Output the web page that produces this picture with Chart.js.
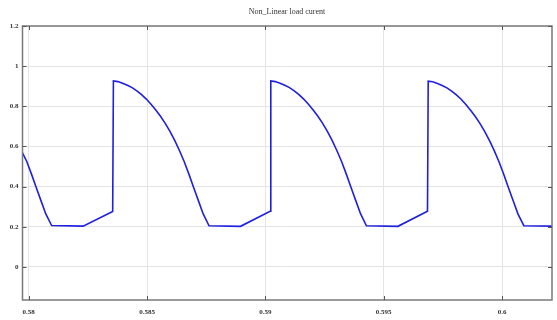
<!DOCTYPE html>
<html>
<head>
<meta charset="utf-8">
<script src="https://cdn.jsdelivr.net/npm/chart.js@4"></script>
<style>
    html, body { margin: 0; padding: 0; background: #fff; }
    #wrap { width: 557px; height: 320px; position: relative; }
</style>
</head>
<body>
<div id="wrap"><canvas id="scope"></canvas></div>
<script>
// valores (tempo em s, corrente em pu)
const time = [
    0.57974, 0.57992, 0.58012, 0.58032, 0.58052, 0.58072, 0.58097, 0.58230, 0.58355,
    0.58358, 0.58377, 0.58397, 0.58417, 0.58437, 0.58457, 0.58477, 0.58497, 0.58517, 0.58537, 0.58557, 0.58577,
    0.58597, 0.58617, 0.58637, 0.58657, 0.58677, 0.58697, 0.58717, 0.58737, 0.58762, 0.58895, 0.59020,
    0.59023, 0.59042, 0.59062, 0.59082, 0.59102, 0.59122, 0.59142, 0.59162, 0.59182, 0.59202, 0.59222, 0.59242,
    0.59262, 0.59282, 0.59302, 0.59322, 0.59342, 0.59362, 0.59382, 0.59402, 0.59427, 0.59560, 0.59685,
    0.59688, 0.59707, 0.59727, 0.59747, 0.59767, 0.59787, 0.59807, 0.59827, 0.59847, 0.59867, 0.59887, 0.59907,
    0.59927, 0.59947, 0.59967, 0.59987, 0.60007, 0.60027, 0.60047, 0.60067, 0.60092, 0.60215
];
const current = [
    0.568, 0.525, 0.462, 0.395, 0.330, 0.265, 0.206, 0.203, 0.276,
    0.926, 0.923, 0.915, 0.905, 0.893, 0.877, 0.858, 0.836, 0.810, 0.781, 0.750, 0.715,
    0.675, 0.630, 0.580, 0.525, 0.462, 0.395, 0.330, 0.265, 0.205, 0.202, 0.277,
    0.926, 0.923, 0.915, 0.905, 0.893, 0.877, 0.858, 0.836, 0.810, 0.781, 0.750, 0.715,
    0.675, 0.630, 0.580, 0.525, 0.462, 0.395, 0.330, 0.265, 0.205, 0.202, 0.277,
    0.925, 0.922, 0.914, 0.904, 0.892, 0.876, 0.857, 0.835, 0.809, 0.780, 0.749, 0.714,
    0.674, 0.629, 0.579, 0.524, 0.461, 0.394, 0.329, 0.264, 0.205, 0.203
];
const xTicks = [0.58, 0.585, 0.59, 0.595, 0.6];
const yTicks = [0, 0.2, 0.4, 0.6, 0.8, 1, 1.2];
const titleText = 'Non_Linear load curent';

// moldura e marcas internas no estilo do scope
const framePlugin = {
    id: 'frame',
    afterDraw(chart) {
        const { ctx, chartArea: a, scales } = chart;
        ctx.save();
        ctx.strokeStyle = '#7a7a7a';
        ctx.lineWidth = 1.5;
        ctx.strokeRect(a.left, a.top, a.right - a.left, a.bottom - a.top);
        ctx.lineWidth = 1;
        ctx.strokeStyle = '#555';
        ctx.beginPath();
        xTicks.forEach(v => {
            const x = Math.round(scales.x.getPixelForValue(v)) + 0.5;
            ctx.moveTo(x, a.bottom); ctx.lineTo(x, a.bottom - 4);
            ctx.moveTo(x, a.top); ctx.lineTo(x, a.top + 4);
        });
        yTicks.forEach(v => {
            const y = Math.round(scales.y.getPixelForValue(v)) + 0.5;
            ctx.moveTo(a.left, y); ctx.lineTo(a.left + 4, y);
            ctx.moveTo(a.right, y); ctx.lineTo(a.right - 4, y);
        });
        ctx.stroke();
        ctx.fillStyle = '#333';
        ctx.font = '8px "Liberation Serif"';
        ctx.textAlign = 'center';
        ctx.textBaseline = 'middle';
        ctx.fillText(titleText, 287, 12);
        ctx.restore();
    }
};

const points = time.map((t, i) => ({ x: t, y: current[i] }));

new Chart(document.getElementById('scope'), {
    type: 'line',
    data: {
        datasets: [{
            data: points,
            borderColor: '#1f1fe0',
            borderWidth: 1.6,
            pointRadius: 0,
            tension: 0,
            fill: false
        }]
    },
    options: {
        responsive: true,
        maintainAspectRatio: false,
        animation: false,
        layout: { padding: { top: 26, right: 5, left: 0, bottom: 0 } },
        plugins: { legend: { display: false }, tooltip: { enabled: false } },
        scales: {
            x: {
                type: 'linear',
                min: 0.57974,
                max: 0.60211,
                afterBuildTicks: s => { s.ticks = xTicks.map(v => ({ value: v })); },
                afterFit: s => { s.height = 20; },
                grid: { color: '#e4e4e4', lineWidth: 1, drawTicks: false },
                border: { display: false },
                ticks: {
                    padding: 8,
                    color: '#333',
                    font: { family: 'Liberation Serif', size: 7, weight: 'bold' },
                    maxRotation: 0,
                    callback: v => String(v)
                }
            },
            y: {
                min: -0.165,
                max: 1.2,
                afterBuildTicks: s => { s.ticks = yTicks.map(v => ({ value: v })); },
                afterFit: s => { s.width = 22.5; },
                grid: { color: '#e4e4e4', lineWidth: 1, drawTicks: false },
                border: { display: false },
                ticks: {
                    padding: 4,
                    color: '#333',
                    font: { family: 'Liberation Serif', size: 7, weight: 'bold' },
                    callback: v => String(v)
                }
            }
        }
    },
    plugins: [framePlugin]
});
</script>
</body>
</html>
